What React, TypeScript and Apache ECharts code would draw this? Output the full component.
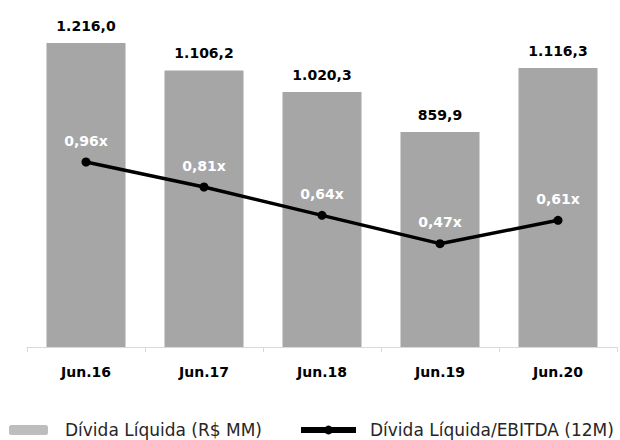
import React, { useEffect, useRef } from "react";
import * as echarts from "echarts";

const categories = ["Jun.16", "Jun.17", "Jun.18", "Jun.19", "Jun.20"];
const debtValues = [1216.0, 1106.2, 1020.3, 859.9, 1116.3];
const ratioValues = [0.96, 0.81, 0.64, 0.47, 0.61];
const barName = "Dívida Líquida (R$ MM)";
const lineName = "Dívida Líquida/EBITDA (12M)";

const FONT = "DejaVu Sans";

function fmtBR(v: number, d: number) {
  const [i, f] = v.toFixed(d).split(".");
  const int = i.replace(/\B(?=(\d{3})+(?!\d))/g, ".");
  return f ? int + "," + f : int;
}

export default function App() {
  const ref = useRef<HTMLDivElement>(null);
  useEffect(() => {
    if (!ref.current) return;
    document.body.style.margin = "0";
    const chart = echarts.init(ref.current, null, { renderer: "svg" });
    chart.setOption({
      animation: false,
      backgroundColor: "#ffffff",
      grid: { left: 27, right: 3, top: 22, bottom: 93, containLabel: false },
      legend: [
        {
          data: [{ name: barName, itemStyle: { color: "#bdbdbd" } }],
          left: 9,
          top: 420,
          padding: 0,
          itemWidth: 39,
          itemHeight: 10,
          icon: "roundRect",
          textStyle: { fontFamily: FONT, fontSize: 17, lineHeight: 20, color: "#262626", padding: [0, 0, 0, 12] },
        },
        {
          data: [lineName],
          left: 298,
          top: 420,
          padding: 0,
          itemWidth: 55,
          itemHeight: 11,
          lineStyle: { width: 6 },
          textStyle: { fontFamily: FONT, fontSize: 17, lineHeight: 20, color: "#262626", padding: [0, 0, 0, 9] },
        },
      ],
      xAxis: {
        type: "category",
        data: categories,
        axisLine: { show: true, lineStyle: { color: "#d9d9d9", width: 1 } },
        axisTick: { show: true, length: 5, lineStyle: { color: "#d9d9d9" } },
        axisLabel: { margin: 18, fontFamily: FONT, fontSize: 14, fontWeight: "bold", color: "#000000" },
      },
      yAxis: [
        { type: "value", min: 0, max: 1300, show: false, splitLine: { show: false } },
        { type: "value", min: -0.15, max: 1.8, show: false, splitLine: { show: false } },
      ],
      series: [
        {
          name: barName,
          type: "bar",
          data: debtValues,
          barWidth: 79,
          itemStyle: { color: "#a6a6a6" },
          label: {
            show: true,
            position: "top",
            distance: 10,
            fontFamily: FONT,
            fontSize: 14,
            fontWeight: "bold",
            color: "#000000",
            formatter: (p: any) => fmtBR(p.value, 1),
          },
        },
        {
          name: lineName,
          type: "line",
          yAxisIndex: 1,
          data: ratioValues,
          symbol: "circle",
          symbolSize: 9,
          lineStyle: { color: "#000000", width: 3.5 },
          itemStyle: { color: "#000000" },
          label: {
            show: true,
            position: "top",
            distance: 10,
            fontFamily: FONT,
            fontSize: 14,
            fontWeight: "bold",
            color: "#ffffff",
            formatter: (p: any) => fmtBR(p.value, 2) + "x",
          },
        },
      ],
    });
    return () => chart.dispose();
  }, []);
  return (
    <div
      ref={ref}
      style={{ position: "absolute", left: 0, top: 0, width: 620, height: 440 }}
    />
  );
}
